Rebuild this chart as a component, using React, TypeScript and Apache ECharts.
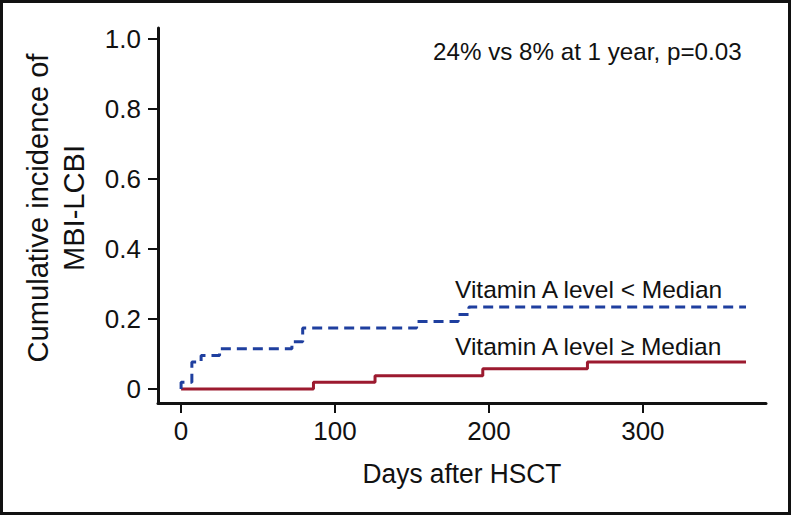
import React, { useEffect, useRef } from "react";
import * as echarts from "echarts";

// Cumulative incidence step curves (day of event -> cumulative value)
const lowDays = [0, 0, 7, 13, 25, 72, 79, 153, 180, 187, 367];
const lowValues = [0, 0.019, 0.077, 0.096, 0.115, 0.135, 0.174, 0.193, 0.213, 0.234, 0.234];
const highDays = [0, 86, 126, 196, 264, 367];
const highValues = [0, 0.019, 0.038, 0.058, 0.077, 0.077];

const xTicks = [0, 100, 200, 300];
const yTicks = [0, 0.2, 0.4, 0.6, 0.8, 1.0];

const lowLabel = "Vitamin A level < Median";
const highLabel = "Vitamin A level \u2265 Median";
const statText = "24% vs 8% at 1 year, p=0.03";
const xTitle = "Days after HSCT";
const yTitle = ["Cumulative incidence of", "MBI-LCBI"];

const SANS = "'Liberation Sans', Arial, Helvetica, sans-serif";

export default function App() {
  const ref = useRef<HTMLDivElement>(null);
  useEffect(() => {
    if (!ref.current) return;
    const chart = echarts.init(ref.current, undefined, { renderer: "svg" });
    const lowData = lowDays.map((d, i) => [d, lowValues[i]]);
    const highData = highDays.map((d, i) => [d, highValues[i]]);
    chart.setOption({
      animation: false,
      backgroundColor: "#ffffff",
      grid: { left: 158, right: 25, top: 28, bottom: 112 },
      xAxis: {
        type: "value",
        min: -15,
        max: 380,
        splitLine: { show: false },
        axisLine: { show: true, onZero: false, lineStyle: { color: "#111", width: 3 } },
        axisTick: { show: true, customValues: xTicks, length: 10, lineStyle: { color: "#111", width: 2 } },
        axisLabel: {
          customValues: xTicks,
          margin: 15,
          color: "#111",
          fontSize: 26,
          fontFamily: SANS,
        },
      },
      yAxis: {
        type: "value",
        min: -0.04,
        max: 1.0314,
        splitLine: { show: false },
        axisLine: { show: true, onZero: false, lineStyle: { color: "#111", width: 3 } },
        axisTick: { show: true, customValues: yTicks, length: 10, lineStyle: { color: "#111", width: 2 } },
        axisLabel: {
          customValues: yTicks,
          margin: 17,
          color: "#111",
          fontSize: 26,
          fontFamily: SANS,
          formatter: (v: number) => (v === 0 ? "0" : v.toFixed(1)),
        },
      },
      series: [
        {
          type: "line",
          step: "end",
          data: highData,
          showSymbol: false,
          symbol: "none",
          lineStyle: { color: "#9c1a2f", width: 3 },
        },
        {
          type: "line",
          step: "end",
          data: lowData,
          showSymbol: false,
          symbol: "none",
          lineStyle: { color: "#1f3f9f", width: 3, type: [10, 6] },
        },
      ],
      graphic: [
        {
          type: "rect",
          shape: { x: 1.5, y: 1.5, width: 788, height: 512 },
          style: { fill: "none", stroke: "#111", lineWidth: 3 },
          silent: true,
        },
        {
          type: "text",
          x: 433,
          y: 51,
          style: { text: statText, fontSize: 24.2, fontFamily: SANS, fill: "#111", verticalAlign: "middle" },
        },
        {
          type: "text",
          x: 455,
          y: 289,
          style: { text: lowLabel, fontSize: 24.5, fontFamily: SANS, fill: "#111", verticalAlign: "middle" },
        },
        {
          type: "text",
          x: 455,
          y: 346,
          style: { text: highLabel, fontSize: 24.5, fontFamily: SANS, fill: "#111", verticalAlign: "middle" },
        },
        {
          type: "text",
          x: 462,
          y: 473,
          scaleX: 0.94,
          style: { text: xTitle, fontSize: 28, fontFamily: SANS, fill: "#111", align: "center", verticalAlign: "middle" },
        },
        {
          type: "text",
          x: 37,
          y: 208,
          rotation: Math.PI / 2,
          scaleX: 0.97,
          style: { text: yTitle[0], fontSize: 30, fontFamily: SANS, fill: "#111", align: "center", verticalAlign: "middle" },
        },
        {
          type: "text",
          x: 73,
          y: 208,
          rotation: Math.PI / 2,
          scaleX: 0.97,
          style: { text: yTitle[1], fontSize: 30, fontFamily: SANS, fill: "#111", align: "center", verticalAlign: "middle" },
        },
      ],
    });
    return () => chart.dispose();
  }, []);
  return (
    <div
      ref={ref}
      style={{ position: "fixed", left: 0, top: 0, width: 791, height: 515, background: "#fff" }}
    />
  );
}
